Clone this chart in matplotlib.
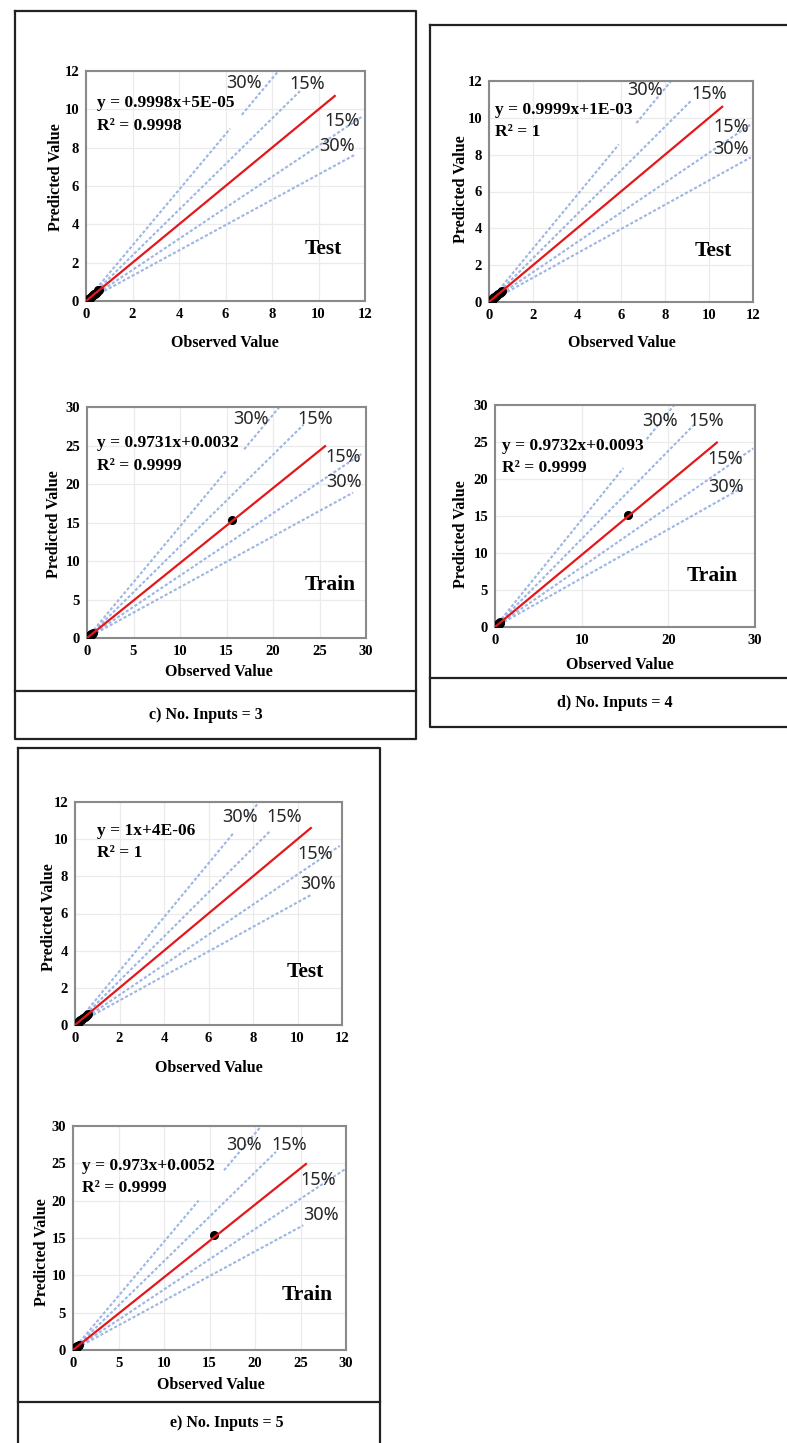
import matplotlib
matplotlib.use("Agg")
import matplotlib.pyplot as plt

W, H = 787, 1443

# regression results (slope, intercept as printed) for each panel
panel_ids = ["c", "d", "e"]
n_inputs = [3, 4, 5]
test_slope = ["0.9998", "0.9999", "1"]
test_icept = ["5E-05", "1E-03", "4E-06"]
test_r2 = ["0.9998", "1", "1"]
train_slope = ["0.9731", "0.9732", "0.973"]
train_icept = ["0.0032", "0.0093", "0.0052"]
train_r2 = ["0.9999", "0.9999", "0.9999"]

# end of the fitted red line (observed value)
test_fit_end = [10.7, 10.6, 10.6]
train_fit_end = [25.6, 25.6, 25.6]

# observed / predicted points
test_obs = [0.02, 0.04, 0.07, 0.10, 0.13, 0.16, 0.20, 0.24, 0.28, 0.33, 0.38, 0.43, 0.48, 0.53, 0.58]
test_pred = [0.03, 0.05, 0.07, 0.11, 0.13, 0.17, 0.20, 0.25, 0.29, 0.34, 0.39, 0.44, 0.49, 0.55, 0.60]
train_obs = [0.01, 0.03, 0.06, 0.09, 0.12, 0.16, 0.20, 0.25, 0.30, 0.36, 0.42, 0.48, 0.55, 0.62]
train_pred = [0.02, 0.03, 0.06, 0.10, 0.12, 0.16, 0.21, 0.25, 0.31, 0.36, 0.43, 0.48, 0.56, 0.62]
train_far_obs = [15.6, 15.3, 15.5]
train_far_pred = [15.3, 15.2, 15.4]

# error band slopes: +30%, +15%, -15%, -30%
band_names = ["30%", "15%", "15%", "30%"]
band_slope = [1.45, 1.19, 0.81, 0.66]

# x-extent of each band line, per axes (test c, train c, test d, train d, test e, train e)
band_spans = [
    [[(0, 6.2), (6.7, 8.3)], [(0, 9.2)], [(0, 11.9)], [(0, 11.6)]],
    [[(0, 15.0), (16.9, 20.7)], [(0, 23.3)], [(0, 29.5)], [(0, 28.6)]],
    [[(0, 5.9), (6.7, 8.3)], [(0, 9.2)], [(0, 12.0)], [(0, 11.9)]],
    [[(0, 14.8), (17.5, 20.7)], [(0, 23.0)], [(0, 29.8)], [(0, 28.5)]],
    [[(0, 7.1), (7.8, 8.3)], [(0, 8.8)], [(0, 11.9)], [(0, 10.6)]],
    [[(0, 13.8), (16.6, 20.7)], [(0, 22.3)], [(0, 29.9)], [(0, 25.3)]],
]
# where the band names sit (data coords)
band_label_pos = [
    [(6.8, 11.4), (9.5, 11.3), (11.0, 9.4), (10.8, 8.1)],
    [(17.6, 28.4), (24.5, 28.4), (27.6, 23.5), (27.6, 20.3)],
    [(7.1, 11.5), (10.0, 11.3), (11.0, 9.5), (11.0, 8.3)],
    [(19.0, 27.8), (24.4, 27.9), (26.6, 22.7), (26.7, 18.9)],
    [(7.4, 11.2), (9.4, 11.2), (10.8, 9.2), (10.9, 7.6)],
    [(18.75, 27.5), (23.8, 27.5), (26.9, 22.8), (27.2, 18.1)],
]

# axes boxes in pixels: left, top, right, bottom
axes_px = [
    (86, 71, 365, 301), (87, 407, 366, 638),
    (489, 81, 753, 302), (495, 405, 755, 627),
    (75, 802, 342, 1025), (73, 1126, 346, 1350),
]
# equation anchor (axes frac), Test/Train tag centre (axes frac)
eq_pos = [(0.04, 0.896), (0.037, 0.879), (0.022, 0.906), (0.027, 0.851), (0.083, 0.906), (0.034, 0.857)]
tag_pos = [(0.85, 0.226), (0.871, 0.229), (0.848, 0.23), (0.835, 0.231), (0.864, 0.238), (0.856, 0.245)]
# axis label centres in pixels: (ylabel x, ylabel y), (xlabel x, xlabel y)
ylab_px = [(56, 177), (54, 524), (461, 189), (461, 534), (49, 917), (42, 1252)]
xlab_px = [(225, 343), (219, 672), (622, 343), (620, 665), (209, 1068), (211, 1385)]

# outer frames: left, top, right, bottom, divider y, caption centre
frames = [
    (15, 11, 416, 739, 691, (206, 715)),
    (430, 25, 800, 727, 678, (615, 703)),
    (18, 748, 380, 1450, 1402, (227, 1423)),
]

serif = "Liberation Serif"
band_color = "#9db6e2"

fig = plt.figure(figsize=(W / 100, H / 100), dpi=100)
fig.patch.set_facecolor("white")

over = fig.add_axes([0, 0, 1, 1], zorder=-1)
over.set_xlim(0, W)
over.set_ylim(H, 0)
over.axis("off")
for k, (l, t, r, b, d, cap) in enumerate(frames):
    over.plot([l, r, r, l, l], [t, t, b, b, t], color="#222222", lw=1.6)
    over.plot([l, r], [d, d], color="#222222", lw=1.6)
    over.text(cap[0], cap[1], "%s) No. Inputs = %d" % (panel_ids[k], n_inputs[k]),
              ha="center", va="center", fontsize=11.5, fontweight="bold", family=serif)


def draw(idx, train):
    p = idx // 2
    l, t, r, b = axes_px[idx]
    ax = fig.add_axes([l / W, 1 - b / H, (r - l) / W, (b - t) / H])
    top = 30 if train else 12
    step = 5 if train else 2
    if train and p == 1:
        step = 10
    ax.set_xlim(0, top)
    ax.set_ylim(0, top)
    ax.set_xticks(list(range(0, top + 1, step)))
    ax.set_yticks(list(range(0, top + 1, 5 if train else 2)))
    ax.grid(True, color="#ebebeb", lw=0.9)
    ax.set_axisbelow(True)
    for s in ax.spines.values():
        s.set_color("#8a8a8a")
        s.set_linewidth(1.5)
    ax.tick_params(length=0, labelsize=10.5, pad=5)
    for lab in ax.get_xticklabels() + ax.get_yticklabels():
        lab.set_fontweight("bold")
        lab.set_family(serif)

    # error bands
    for j, spans in enumerate(band_spans[idx]):
        for x0, x1 in spans:
            ax.plot([x0, x1], [band_slope[j] * x0, band_slope[j] * x1], color=band_color,
                    lw=1.5, ls=(0, (1.5, 1.0)), zorder=2)
        bx, by = band_label_pos[idx][j]
        ax.text(bx, by, band_names[j], ha="center", va="center", fontsize=13,
                color="#262626", family="Noto Sans", zorder=4)

    # points
    if train:
        xs = train_obs + [train_far_obs[p]]
        ys = train_pred + [train_far_pred[p]]
        sl, ic, r2 = train_slope[p], train_icept[p], train_r2[p]
        xend = train_fit_end[p]
    else:
        xs, ys = test_obs, test_pred
        sl, ic, r2 = test_slope[p], test_icept[p], test_r2[p]
        xend = test_fit_end[p]
    ax.plot(xs, ys, "o", color="black", ms=5.5, zorder=3)

    # fitted line
    a, c = float(sl), float(ic)
    ax.plot([0, xend], [c, a * xend + c], color="#e3171c", lw=1.6, zorder=4)

    ex, ey = eq_pos[idx]
    ax.text(ex, ey, "y = %sx+%s" % (sl, ic), transform=ax.transAxes, ha="left", va="top",
            fontsize=12.5, fontweight="bold", family=serif, zorder=5)
    ax.text(ex, ey - 0.1, "R² = %s" % r2, transform=ax.transAxes, ha="left", va="top",
            fontsize=12.5, fontweight="bold", family=serif, zorder=5)
    tx, ty = tag_pos[idx]
    ax.text(tx, ty, "Train" if train else "Test", transform=ax.transAxes, ha="center",
            va="center", fontsize=15.5, fontweight="bold", family=serif, zorder=5)

    ax.set_ylabel("Predicted Value", fontsize=11.5, fontweight="bold", family=serif, va="center")
    ax.set_xlabel("Observed Value", fontsize=11.5, fontweight="bold", family=serif, va="center")
    yx, yy = ylab_px[idx]
    ax.yaxis.set_label_coords((yx - l) / (r - l), (b - yy) / (b - t))
    xx, xy = xlab_px[idx]
    ax.xaxis.set_label_coords((xx - l) / (r - l), (b - xy) / (b - t))


for i in range(6):
    draw(i, i % 2 == 1)

fig.savefig("out.png", dpi=100, facecolor="white")
